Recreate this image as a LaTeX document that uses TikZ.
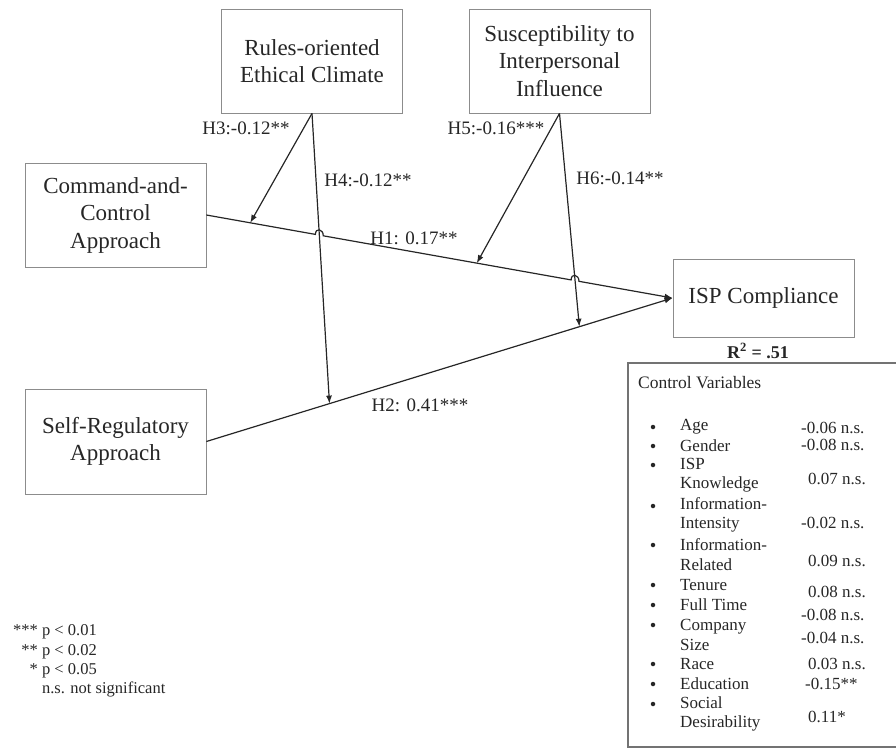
\documentclass[tikz,border=0pt]{standalone}
\usepackage{fontspec}
\setmainfont{Liberation Serif}
\usetikzlibrary{calc,arrows.meta}

\begin{document}
\begin{tikzpicture}[x=1pt,y=-1pt]
\useasboundingbox (0,0) rectangle (896,749);
   \tikzset{box/.style = {draw=black!45, line width=0.8pt, minimum width=181pt, inner sep=0pt, align=center, text=black!85, font=\fontsize{23}{27.5}\selectfont}}
   \node[box, minimum height=104pt] (rules) at (312,61) {Rules-oriented\\Ethical Climate};
   \node[box, minimum height=104pt] (susc) at (559.5,61) {Susceptibility to\\Interpersonal\\Influence};
   \node[box, minimum height=104pt] (cc) at (115.5,215) {Command-and-\\Control\\Approach};
   \node[box, minimum height=105pt] (sr) at (115.5,441.5) {Self-Regulatory\\Approach};
   \node[box, minimum height=78pt] (isp) at (763.5,298) {ISP Compliance};
   \node[font=\fontsize{18}{22}\selectfont\bfseries, text=black!85, inner sep=0pt] (rsq) at (758,351) {R\textsuperscript{2} = .51};

%   points where the moderators land
   \coordinate (h3end) at ($(cc.east)!0.094!(isp.west)$);
   \coordinate (h5end) at ($(cc.east)!0.58!(isp.west)$);
   \coordinate (h4end) at ($(sr.east)!0.264!(isp.west)$);
   \coordinate (h6end) at ($(sr.east)!0.80!(isp.west)$);
   \coordinate (x4) at (intersection of cc.east--isp.west and rules.south--h4end);
   \coordinate (x6) at (intersection of cc.east--isp.west and susc.south--h6end);

   \tikzset{effect/.style = {draw=black!85, line width=1.2pt, -{Latex[length=8pt,width=6pt]}}}
   \draw[effect] (cc.east) -- ($(x4)!4pt!(cc.east)$) .. controls +(0,-7) and +(0,-7) .. ($(x4)!4pt!(isp.west)$)
      -- ($(x6)!4pt!(cc.east)$) .. controls +(0,-7) and +(0,-7) .. ($(x6)!4pt!(isp.west)$) -- (isp.west);
   \draw[effect] (sr.east) -- (isp.west);
   \draw[effect] (rules.south) -- (h3end);
   \draw[effect] (rules.south) -- (h4end);
   \draw[effect] (susc.south) -- (h5end);
   \draw[effect] (susc.south) -- (h6end);

   \tikzset{hlabel/.style = {inner sep=0pt, text=black!85, font=\fontsize{19}{22}\selectfont}}
   \node[hlabel] (l3) at (246,128) {H3:-0.12**};
   \node[hlabel] (l4) at (368,180) {H4:-0.12**};
   \node[hlabel] (l5) at (496,128) {H5:-0.16***};
   \node[hlabel] (l6) at (620,178) {H6:-0.14**};
   \node[hlabel] (l1) at (414,238) {H1: 0.17**};
   \node[hlabel] (l2) at (420,405) {H2: 0.41***};

%   control variables
   \node[draw=black!55, line width=1.3pt, minimum width=270pt, minimum height=384pt, inner sep=0pt] (ctrl) at (763,555) {};
   \tikzset{item/.style = {anchor=west, align=left, inner sep=0pt, text=black!85, font=\fontsize{17}{19.5}\selectfont}}
   \tikzset{dot/.style = {circle, fill=black!85, minimum size=4.5pt, inner sep=0pt}}
   \node[item, font=\fontsize{17.5}{20}\selectfont] (ctitle) at (638,383) {Control Variables};
   \node[item] (age) at (680,427) {Age};
   \node[item] (gender) at (680,446) {Gender};
   \node[item] (know) at (680,475) {ISP\\Knowledge};
   \node[item] (intens) at (680,515) {Information-\\Intensity};
   \node[item] (relat) at (680,554.5) {Information-\\Related};
   \node[item] (tenure) at (680,585) {Tenure};
   \node[item] (full) at (680,605) {Full Time};
   \node[item] (size) at (680,635) {Company\\Size};
   \node[item] (race) at (680,664) {Race};
   \node[item] (edu) at (680,684) {Education};
   \node[item] (soc) at (680,714) {Social\\Desirability};
   \node[dot] (d1) at (653,427) {};
   \node[dot] (d2) at (653,446) {};
   \node[dot] (d3) at (653,465) {};
   \node[dot] (d4) at (653,506) {};
   \node[dot] (d5) at (653,545) {};
   \node[dot] (d6) at (653,585) {};
   \node[dot] (d7) at (653,605) {};
   \node[dot] (d8) at (653,625) {};
   \node[dot] (d9) at (653,664) {};
   \node[dot] (d10) at (653,684) {};
   \node[dot] (d11) at (653,704) {};
   \node[item] (vage) at (801,428) {-0.06 n.s.};
   \node[item] (vgender) at (801,445) {-0.08 n.s.};
   \node[item] (vknow) at (808,479) {0.07 n.s.};
   \node[item] (vintens) at (801,523) {-0.02 n.s.};
   \node[item] (vrelat) at (808,561) {0.09 n.s.};
   \node[item] (vtenure) at (808,592) {0.08 n.s.};
   \node[item] (vfull) at (801,615) {-0.08 n.s.};
   \node[item] (vsize) at (801,638) {-0.04 n.s.};
   \node[item] (vrace) at (808,664) {0.03 n.s.};
   \node[item] (vedu) at (805,684) {-0.15**};
   \node[item] (vsoc) at (808,717) {0.11*};

%   significance key
   \node[anchor=west, inner sep=0pt, text=black!85, font=\fontsize{16.5}{19.3}\selectfont] (key) at (13,661)
      {\begin{tabular}{@{}r@{ }l@{}}{***}&p < 0.01\\{**}&p < 0.02\\{*}&p < 0.05\\&n.s. not significant\end{tabular}};
\end{tikzpicture}
\end{document}
